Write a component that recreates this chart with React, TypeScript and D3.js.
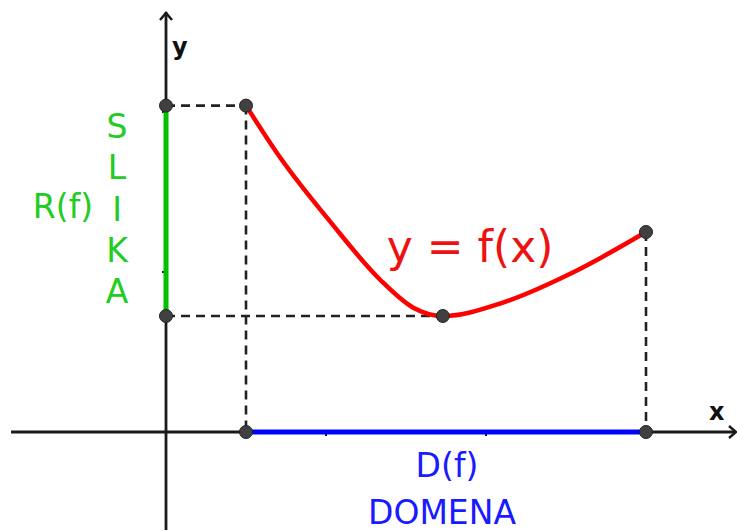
import React from "react";
import * as d3 from "d3";

// points on the curve y = f(x), in axis units
const curveX = [0.5, 0.71, 1.03, 1.34, 1.54, 1.73, 2.11, 2.53, 3.0];
const curveY = [2.04, 1.72, 1.31, 0.95, 0.78, 0.725, 0.81, 0.99, 1.25];

const xTicks = [1, 2, 3];
const yTicks = [1, 2];
const rangeLetters = ["S", "L", "I", "K", "A"];

const W = 737;
const H = 532;

function App() {
  const x = d3.scaleLinear().domain([0, 1]).range([166, 326]);
  const y = d3.scaleLinear().domain([0, 1]).range([432, 272]);

  const pts = curveX.map((v, i) => [v, curveY[i]] as [number, number]);
  const path = d3
    .line<[number, number]>()
    .x((d) => x(d[0]))
    .y((d) => y(d[1]))
    .curve(d3.curveMonotoneX)(pts);

  const first = pts[0];
  const last = pts[pts.length - 1];
  const minPt = pts.reduce((a, b) => (b[1] < a[1] ? b : a));
  const yMax = first[1];
  const yMin = minPt[1];

  const dots: [number, number][] = [
    [0, yMax],
    [first[0], yMax],
    [0, yMin],
    minPt,
    last,
    [first[0], 0],
    [last[0], 0],
  ];

  const axisCol = "#1a1a1a";
  const dash = "9,6";
  const font = "DejaVu Sans, sans-serif";

  return (
    <svg
      width={W}
      height={H}
      style={{ position: "absolute", left: 0, top: 0, background: "#fff" }}
    >
      {/* axes */}
      <line x1={11} x2={735} y1={y(0)} y2={y(0)} stroke={axisCol} strokeWidth={2.8} />
      <line x1={x(0)} x2={x(0)} y1={12} y2={530} stroke={axisCol} strokeWidth={2.8} />
      <path
        d={`M${x(0) - 6},${20} L${x(0)},${13} L${x(0) + 6},${20}`}
        fill="none"
        stroke={axisCol}
        strokeWidth={2.5}
      />
      <path
        d={`M${729},${y(0) - 6} L${736},${y(0)} L${729},${y(0) + 6}`}
        fill="none"
        stroke={axisCol}
        strokeWidth={2.5}
      />
      {xTicks.map((t) => (
        <line key={"xt" + t} x1={x(t)} x2={x(t)} y1={y(0)} y2={y(0) + 4} stroke={axisCol} strokeWidth={2} />
      ))}
      {yTicks.map((t) => (
        <line key={"yt" + t} x1={x(0) - 4} x2={x(0)} y1={y(t)} y2={y(t)} stroke={axisCol} strokeWidth={2} />
      ))}

      {/* dashed guides */}
      <g stroke="#222" strokeWidth={2.6} strokeDasharray={dash} fill="none">
        <line x1={x(0)} x2={x(first[0])} y1={y(yMax)} y2={y(yMax)} />
        <line x1={x(0)} x2={x(minPt[0])} y1={y(yMin)} y2={y(yMin)} />
        <line x1={x(first[0])} x2={x(first[0])} y1={y(yMax)} y2={y(0)} />
        <line x1={x(last[0])} x2={x(last[0])} y1={y(last[1])} y2={y(0)} />
      </g>

      {/* range and domain */}
      <line x1={x(0)} x2={x(0)} y1={y(yMax)} y2={y(yMin)} stroke="#00c000" strokeWidth={5} />
      <line x1={x(first[0])} x2={x(last[0])} y1={y(0)} y2={y(0)} stroke="#0000ff" strokeWidth={5} />

      {/* function */}
      <path d={path || ""} fill="none" stroke="#ff0000" strokeWidth={4.5} strokeLinecap="round" />

      {dots.map((d, i) => (
        <circle key={i} cx={x(d[0])} cy={y(d[1])} r={6.5} fill="#404040" stroke="#222" strokeWidth={1} />
      ))}

      {/* labels */}
      <text x={172} y={55} fontFamily={font} fontWeight="bold" fontSize={24} fill="#111">y</text>
      <text x={709} y={420} fontFamily={font} fontWeight="bold" fontSize={24} fill="#111">x</text>

      <g fontFamily={font} fontSize={33} fill="#22cc22" textAnchor="middle">
        {rangeLetters.map((l, i) => (
          <text key={l + i} x={117} y={138 + i * 41.3}>{l}</text>
        ))}
        <text x={63} y={218}>R(f)</text>
      </g>

      <text x={470} y={262} fontFamily={font} fontSize={44} fill="#ee1111" textAnchor="middle">
        y = f(x)
      </text>

      <g fontFamily={font} fontSize={33} fill="#1a1aff" textAnchor="middle">
        <text x={447} y={477}>D(f)</text>
        <text x={442} y={524}>DOMENA</text>
      </g>
    </svg>
  );
}

export default App;
